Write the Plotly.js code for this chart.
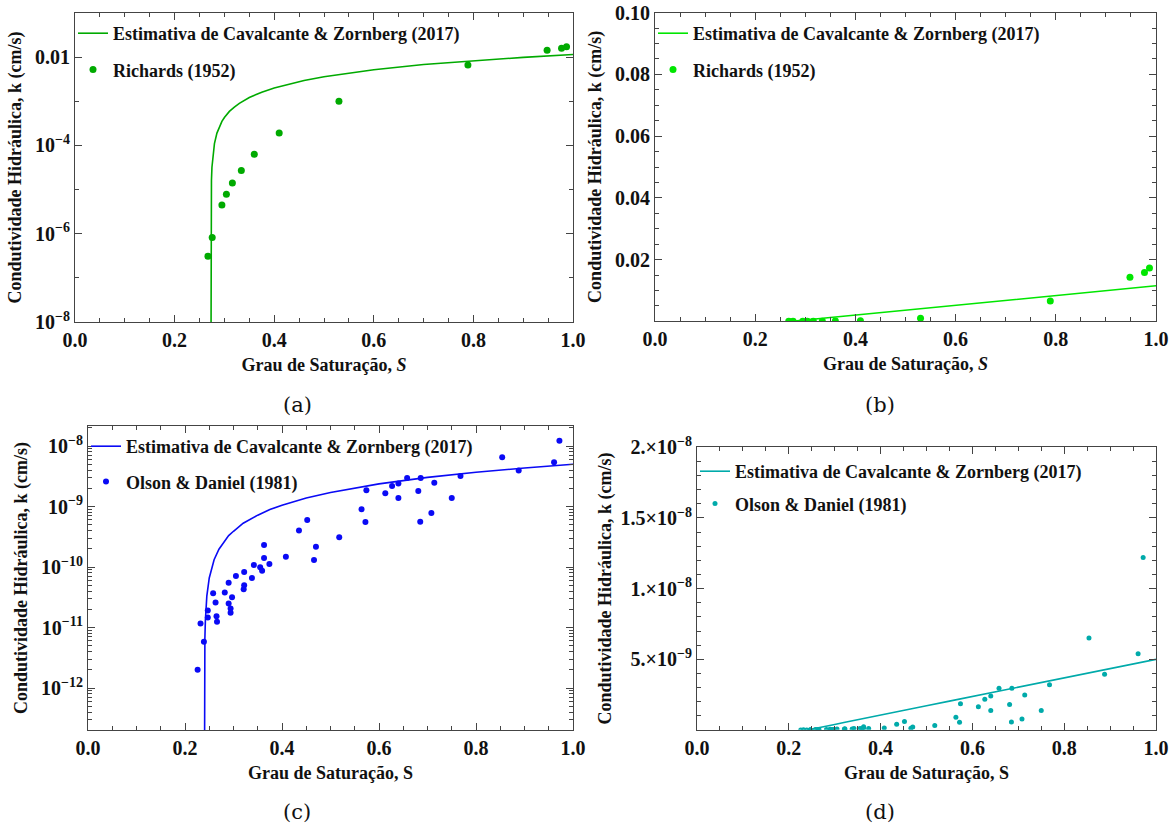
<!DOCTYPE html>
<html>
<head>
<meta charset="utf-8">
<script src="https://cdn.plot.ly/plotly-3.0.1.min.js"></script>
<style>
html,body{margin:0;padding:0;background:#fff;}
#chart{width:1171px;height:827px;}
</style>
</head>
<body>
<div id="chart"></div>
<script>
// ---------- Data ----------
// Richards (1952) measured points
const S_richards = [0.267, 0.2755, 0.295, 0.304, 0.316, 0.334, 0.36, 0.41, 0.53, 0.789, 0.948, 0.977, 0.987];
const k_richards = [3.1e-7, 8.2e-7, 4.5e-6, 7.8e-6, 1.4e-5, 2.7e-5, 6.3e-5, 1.9e-4, 1.0e-3, 6.6e-3, 0.0143, 0.0158, 0.0173];

// Cavalcante & Zornberg (2017) estimate for Richards data
const S_cz_richards = [0.273, 0.27301, 0.2731, 0.2735, 0.274, 0.275, 0.277, 0.28, 0.285, 0.29, 0.295, 0.30, 0.31, 0.32, 0.33, 0.35, 0.375, 0.40, 0.43, 0.46, 0.50, 0.55, 0.60, 0.70, 0.80, 0.90, 1.00];
const k_cz_richards = [1e-9, 1.6e-7, 1.6e-6, 7.9e-6, 1.6e-5, 3.2e-5, 6.3e-5, 1.1e-4, 1.9e-4, 2.7e-4, 3.5e-4, 4.3e-4, 5.9e-4, 7.4e-4, 9.0e-4, 1.22e-3, 1.61e-3, 2.0e-3, 2.48e-3, 2.96e-3, 3.6e-3, 4.4e-3, 5.2e-3, 6.8e-3, 8.3e-3, 9.9e-3, 0.0115];

// Olson & Daniel (1981) measured points
const S_olson = [0.226, 0.232, 0.239, 0.247, 0.247, 0.258, 0.263, 0.265, 0.266, 0.282, 0.290, 0.290, 0.294, 0.294, 0.297, 0.305, 0.322, 0.322, 0.321, 0.338, 0.342, 0.355, 0.359, 0.363, 0.363, 0.374, 0.408, 0.435, 0.452, 0.466, 0.470, 0.518, 0.564, 0.572, 0.574, 0.613, 0.627, 0.640, 0.640, 0.658, 0.681, 0.685, 0.686, 0.708, 0.714, 0.750, 0.768, 0.854, 0.888, 0.961, 0.972];
const k_olson = [2.0e-12, 1.17e-11, 5.8e-12, 1.92e-11, 1.47e-11, 3.7e-11, 2.6e-11, 1.53e-11, 1.25e-11, 3.8e-11, 5.5e-11, 2.5e-11, 2.07e-11, 1.76e-11, 3.15e-11, 7.1e-11, 8.3e-11, 5.0e-11, 4.3e-11, 6.6e-11, 1.08e-10, 9.9e-11, 8.7e-11, 2.31e-10, 1.41e-10, 1.12e-10, 1.48e-10, 4.0e-10, 6.0e-10, 1.31e-10, 2.17e-10, 3.1e-10, 9.0e-10, 5.55e-10, 1.85e-9, 1.65e-9, 2.18e-9, 2.41e-9, 1.38e-9, 2.95e-9, 1.8e-9, 5.6e-10, 2.95e-9, 7.8e-10, 2.48e-9, 1.38e-9, 3.2e-9, 6.5e-9, 3.95e-9, 5.4e-9, 1.22e-8];

// Cavalcante & Zornberg (2017) estimate for Olson & Daniel data
const S_cz_olson = [0.24, 0.2401, 0.2403, 0.2405, 0.241, 0.242, 0.245, 0.25, 0.255, 0.26, 0.27, 0.28, 0.29, 0.30, 0.32, 0.35, 0.375, 0.40, 0.45, 0.50, 0.55, 0.60, 0.70, 0.80, 0.90, 1.00];
const k_cz_olson = [1e-14, 6.6e-13, 2.0e-12, 3.3e-12, 6.6e-12, 1.3e-11, 3.3e-11, 6.6e-11, 9.9e-11, 1.32e-10, 1.97e-10, 2.6e-10, 3.3e-10, 3.9e-10, 5.3e-10, 7.2e-10, 8.9e-10, 1.05e-9, 1.38e-9, 1.71e-9, 2.04e-9, 2.37e-9, 3.03e-9, 3.68e-9, 4.34e-9, 5.0e-9];

// Texts
const nameCZ = "Estimativa de Cavalcante & Zornberg (2017)";
const nameRichards = "Richards (1952)";
const nameOlson = "Olson & Daniel (1981)";
const yTitle = "Condutividade Hidráulica, k (cm/s)";
const xTitleItalic = "Grau de Saturação, <i>S</i>";
const xTitlePlain = "Grau de Saturação, S";
const captions = ["(a)", "(b)", "(c)", "(d)"];

// Tick labels
const xTickVals = [0, 0.2, 0.4, 0.6, 0.8, 1.0];
const xTickText = ["0.0", "0.2", "0.4", "0.6", "0.8", "1.0"];
const yA_tickVals = [1e-8, 1e-6, 1e-4, 1e-2];
const yA_tickText = ["10<sup>−8</sup>", "10<sup>−6</sup>", "10<sup>−4</sup>", "0.01"];
const yB_tickVals = [0.02, 0.04, 0.06, 0.08, 0.10];
const yB_tickText = ["0.02", "0.04", "0.06", "0.08", "0.10"];
const yC_tickVals = [1e-12, 1e-11, 1e-10, 1e-9, 1e-8];
const yC_tickText = ["10<sup>−12</sup>", "10<sup>−11</sup>", "10<sup>−10</sup>", "10<sup>−9</sup>", "10<sup>−8</sup>"];
const yD_tickVals = [5e-9, 1e-8, 1.5e-8, 2e-8];
const yD_tickText = ["5.×10<sup>−9</sup>", "1.×10<sup>−8</sup>", "1.5×10<sup>−8</sup>", "2.×10<sup>−8</sup>"];

// ---------- Styling ----------
const FONT = "Liberation Serif";
const colA = "rgb(0,170,0)";
const colB = "rgb(0,230,0)";
const colC = "rgb(10,10,245)";
const colD = "rgb(0,170,170)";
const W = 1171, H = 827;
const px = v => v / W;
const py = v => 1 - v / H;

const tickFont = {family: FONT, size: 20, color: "#111", weight: "bold"};
const titleFont = {family: FONT, size: 18, color: "#111", weight: "bold"};
const legendFont = {family: FONT, size: 18, color: "#111", weight: "bold"};

function baseAxis(extra) {
  return Object.assign({
    showline: true, linecolor: "#444", linewidth: 1, mirror: "allticks",
    ticks: "inside", ticklen: 7, tickwidth: 1, tickcolor: "#444",
    showgrid: false, zeroline: false, tickfont: tickFont
  }, extra);
}

function logMinor(lo, hi) {
  const arr = [];
  for (let e = lo; e < hi; e++) for (let m = 2; m <= 9; m++) arr.push(m * Math.pow(10, e));
  return arr;
}
function decadeMinor(lo, hi) {
  const arr = [];
  for (let e = lo; e <= hi; e++) arr.push(Math.pow(10, e));
  return arr;
}

function xAxis(domain, title, anchor) {
  return baseAxis({
    domain: domain, range: [0, 1], anchor: anchor,
    tickmode: "array", tickvals: xTickVals, ticktext: xTickText,
    minor: {ticks: "inside", ticklen: 4, tickcolor: "#444", dtick: 0.05, showgrid: false},
    title: {text: title, font: titleFont, standoff: 8}
  });
}

const traces = [
  {x: S_cz_richards, y: k_cz_richards, type: "scatter", mode: "lines", name: nameCZ,
   line: {color: colA, width: 1.6}, xaxis: "x", yaxis: "y", legend: "legend", legendgroup: "a1"},
  {x: S_richards, y: k_richards, type: "scatter", mode: "markers", name: nameRichards,
   marker: {color: colA, size: 7}, xaxis: "x", yaxis: "y", legend: "legend", legendgroup: "a2"},

  {x: S_cz_richards, y: k_cz_richards, type: "scatter", mode: "lines", name: nameCZ,
   line: {color: colB, width: 1.6}, xaxis: "x2", yaxis: "y2", legend: "legend2", legendgroup: "b1"},
  {x: S_richards, y: k_richards, type: "scatter", mode: "markers", name: nameRichards,
   marker: {color: colB, size: 7}, xaxis: "x2", yaxis: "y2", legend: "legend2", legendgroup: "b2"},

  {x: S_cz_olson, y: k_cz_olson, type: "scatter", mode: "lines", name: nameCZ,
   line: {color: colC, width: 1.6}, xaxis: "x3", yaxis: "y3", legend: "legend3", legendgroup: "c1"},
  {x: S_olson, y: k_olson, type: "scatter", mode: "markers", name: nameOlson,
   marker: {color: colC, size: 6}, xaxis: "x3", yaxis: "y3", legend: "legend3", legendgroup: "c2"},

  {x: S_cz_olson, y: k_cz_olson, type: "scatter", mode: "lines", name: nameCZ,
   line: {color: colD, width: 1.6}, xaxis: "x4", yaxis: "y4", legend: "legend4", legendgroup: "d1"},
  {x: S_olson, y: k_olson, type: "scatter", mode: "markers", name: nameOlson,
   marker: {color: colD, size: 5}, xaxis: "x4", yaxis: "y4", legend: "legend4", legendgroup: "d2"}
];

function legendAt(x, y, gap) {
  return {x: px(x), y: py(y), xanchor: "left", yanchor: "top", bgcolor: "rgba(0,0,0,0)",
          font: legendFont, traceorder: "grouped", tracegroupgap: gap, itemwidth: 30};
}

const captionFont = {family: "DejaVu Serif", size: 21, color: "#111"};
function caption(i, x, y) {
  return {text: captions[i], x: px(x), y: py(y), xref: "paper", yref: "paper",
          xanchor: "center", yanchor: "middle", showarrow: false, font: captionFont};
}

const layout = {
  width: W, height: H,
  margin: {l: 0, r: 0, t: 0, b: 0},
  paper_bgcolor: "#fff", plot_bgcolor: "#fff",
  showlegend: true,
  font: {family: FONT, color: "#111"},

  xaxis: xAxis([px(75), px(573)], xTitleItalic, "y"),
  yaxis: baseAxis({
    domain: [py(322), py(13)], type: "log", range: [-8, -1], anchor: "x",
    tickmode: "array", tickvals: yA_tickVals, ticktext: yA_tickText,
    minor: {ticks: "inside", ticklen: 4, tickcolor: "#444", tickmode: "array", tickvals: decadeMinor(-7, -1), showgrid: false},
    title: {text: yTitle, font: titleFont, standoff: 8}
  }),

  xaxis2: xAxis([px(655), px(1156)], xTitleItalic, "y2"),
  yaxis2: baseAxis({
    domain: [py(321), py(12.7)], range: [0.0001, 0.1], anchor: "x2",
    tickmode: "array", tickvals: yB_tickVals, ticktext: yB_tickText,
    minor: {ticks: "inside", ticklen: 4, tickcolor: "#444", dtick: 0.005, showgrid: false},
    title: {text: yTitle, font: titleFont, standoff: 8}
  }),

  xaxis3: xAxis([px(88), px(573)], xTitlePlain, "y3"),
  yaxis3: baseAxis({
    domain: [py(730), py(426)], type: "log", range: [-12.694, -7.669], anchor: "x3",
    tickmode: "array", tickvals: yC_tickVals, ticktext: yC_tickText,
    minor: {ticks: "inside", ticklen: 4, tickcolor: "#444", tickmode: "array", tickvals: logMinor(-13, -7), showgrid: false},
    title: {text: yTitle, font: titleFont, standoff: 8}
  }),

  xaxis4: xAxis([px(697), px(1156)], xTitlePlain, "y4"),
  yaxis4: baseAxis({
    domain: [py(729.7), py(447.3)], range: [2e-11, 2e-8], anchor: "x4",
    tickmode: "array", tickvals: yD_tickVals, ticktext: yD_tickText,
    minor: {ticks: "inside", ticklen: 4, tickcolor: "#444", dtick: 1e-9, showgrid: false},
    title: {text: yTitle, font: titleFont, standoff: 4}
  }),

  legend: legendAt(73, 15, 10),
  legend2: legendAt(653, 15, 10),
  legend3: legendAt(86, 428, 9),
  legend4: legendAt(695, 453, 6),

  annotations: [
    caption(0, 297, 405),
    caption(1, 880, 405),
    caption(2, 297, 812),
    caption(3, 880, 812)
  ]
};

Plotly.newPlot("chart", traces, layout, {displayModeBar: false, staticPlot: true});
</script>
</body>
</html>
